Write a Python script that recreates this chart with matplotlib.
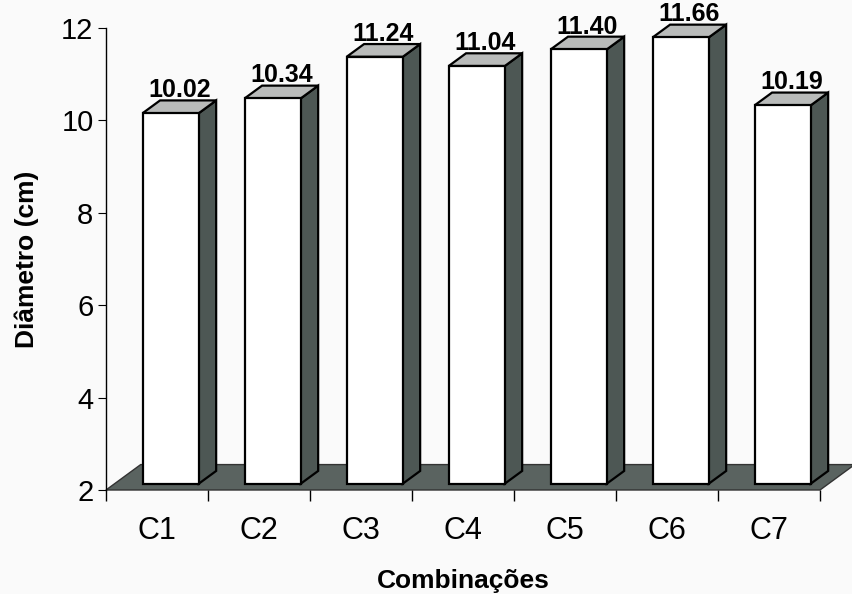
import numpy as np
import matplotlib.pyplot as plt
from matplotlib.patches import Polygon

plt.rcParams['font.family'] = ['Liberation Sans', 'DejaVu Sans']

categories = ['C1', 'C2', 'C3', 'C4', 'C5', 'C6', 'C7']
diametro = [10.02, 10.34, 11.24, 11.04, 11.40, 11.66, 10.19]
labels = ['10.02', '10.34', '11.24', '11.04', '11.40', '11.66', '10.19']

ymin, ymax = 2, 12
# depth of the floor (x in category units, y in value units)
dx, dy = 0.34, 0.55
front, back = 0.25, 0.75   # bar depth as a fraction of floor depth
bar_left, bar_w = 0.275, 0.55

c_front = '#ffffff'
c_top = '#b9bbba'
c_side = '#4d5754'
c_floor = '#5a6360'

fig = plt.figure(figsize=(8.52, 5.94), dpi=100)
fig.patch.set_facecolor('#fafafa')
ax = fig.add_axes([106/852, 104/594, 714/852, 462/594])
ax.set_facecolor('none')
n = len(categories)
ax.set_xlim(0, n)
ax.set_ylim(ymin, ymax)

# floor
floor = [(0, ymin), (n, ymin), (n+dx, ymin+dy), (dx, ymin+dy)]
ax.add_patch(Polygon(floor, closed=True, fc=c_floor, ec='#333333', lw=1.0, clip_on=False, zorder=1))

for i, v in enumerate(diametro):
    x0 = i + bar_left + front*dx
    y0 = ymin + front*dy
    x1 = x0 + bar_w
    yt = v + front*dy
    ox, oy = (back-front)*dx, (back-front)*dy
    front_face = [(x0, y0), (x1, y0), (x1, yt), (x0, yt)]
    top_face = [(x0, yt), (x1, yt), (x1+ox, yt+oy), (x0+ox, yt+oy)]
    side_face = [(x1, y0), (x1+ox, y0+oy), (x1+ox, yt+oy), (x1, yt)]
    for pts, c in [(side_face, c_side), (top_face, c_top), (front_face, c_front)]:
        ax.add_patch(Polygon(pts, closed=True, fc=c, ec='black', lw=1.6, clip_on=False, zorder=2))
    ax.text((x0+x1)/2 + ox/2, yt+oy - 0.04, labels[i], ha='center', va='bottom',
            fontsize=18, fontweight='bold', zorder=3)

for s in ['top', 'right', 'bottom']:
    ax.spines[s].set_visible(False)
ax.spines['left'].set_linewidth(1.0)
ax.set_yticks(np.arange(2, 13, 2))
ax.tick_params(axis='y', direction='out', length=6, labelsize=21, pad=3)
ax.set_xticks(np.arange(0, n+1))
ax.set_xticklabels([])
ax.set_xticks(np.arange(n) + 0.5, minor=True)
ax.set_xticklabels(categories, minor=True)
ax.tick_params(axis='x', which='major', direction='out', length=8, width=1.0)
ax.tick_params(axis='x', which='minor', length=0, labelsize=22, pad=19)

ax.set_ylabel('Diâmetro (cm)', fontsize=19, fontweight='bold', labelpad=16)
ax.set_xlabel('Combinações', fontsize=19, fontweight='bold', labelpad=16)

fig.savefig('out.png', dpi=100, facecolor=fig.get_facecolor())
